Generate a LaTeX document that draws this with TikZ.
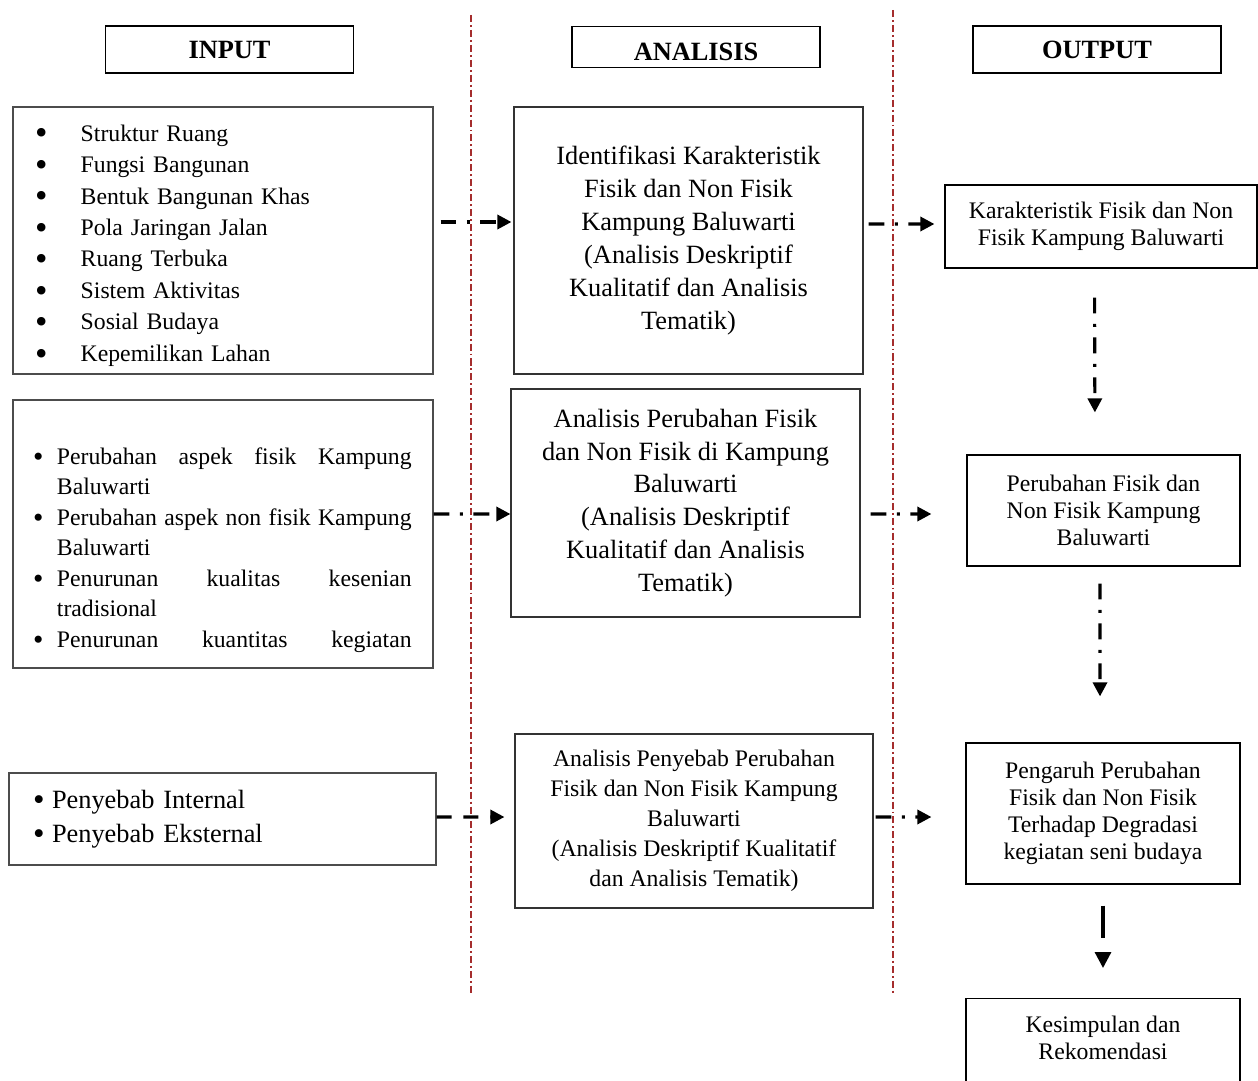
\documentclass[tikz,border=0pt]{standalone}
\usepackage{fontspec}
\setmainfont{Liberation Serif}
\usetikzlibrary{arrows.meta}

\definecolor{sepred}{RGB}{165,45,45}
\newcommand{\bigblt}{\raisebox{-2.2pt}{\scalebox{1.5}{\textbullet}}}
\newcommand{\midblt}{\raisebox{-1.1pt}{\scalebox{1.25}{\textbullet}}}
\newcommand{\blt}{\makebox[26pt][l]{\bigblt}}
\newcommand{\bltb}{\makebox[13.6pt][l]{\midblt}}
\newcommand{\bltc}{\makebox[10.8pt][l]{\midblt}}
\newcommand{\fillline}[1]{\makebox[201.9pt][l]{#1}}

\begin{document}
\begin{tikzpicture}[x=0.02cm, y=-0.02cm,
    hbox/.style={draw, line width=0.9pt, minimum width=4.96cm, minimum height=0.94cm, font=\fontsize{15}{18}\selectfont\bfseries},
    inbox/.style={draw=black!70, line width=0.7pt, inner xsep=0pt, align=left},
    anbox/.style={draw=black!80, line width=0.7pt, align=center},
    outbox/.style={draw, line width=0.7pt, align=center, font=\fontsize{13.5}{15.3}\selectfont},
    sepline/.style={draw=sepred, line width=0.6pt, dash pattern=on 4pt off 1.7pt on 1.1pt off 1.7pt},
    flow/.style={line width=1.8pt, -{Triangle[length=8pt,width=8pt]}, dash pattern=on 9pt off 6pt on 1.7pt off 6pt},
    flowdash/.style={line width=1.8pt, -{Triangle[length=8pt,width=8pt]}, dash pattern=on 8.5pt off 6.8pt},
    flowlong/.style={line width=1.8pt, -{Triangle[length=9pt,width=9pt]}, dash pattern=on 18.7pt off 10pt}]
    \useasboundingbox (0,0) rectangle (1258,1081);

    \draw[sepline] (471,15) -- (471,995);
    \draw[sepline] (893,10) -- (893,995);

    \node[hbox] at (229.5,49.5) (hin) {INPUT};
    \node[hbox, minimum height=0.82cm, text height=15pt, text depth=0pt] at (696,47) (han) {ANALISIS};
    \node[hbox] at (1097,49.5) (hout) {OUTPUT};

    \node[inbox, minimum width=8.4cm, minimum height=5.34cm, label={[inbox, draw=none, text width=7.52cm, yshift=-1mm, font=\fontsize{13.5}{17.9}\selectfont]center:\blt Struktur Ruang\\ \blt Fungsi Bangunan\\ \blt Bentuk Bangunan Khas\\ \blt Pola Jaringan Jalan\\ \blt Ruang Terbuka\\ \blt Sistem Aktivitas\\ \blt Sosial Budaya\\ \blt Kepemilikan Lahan}] at (223,240.5) (in1) {};
    \node[inbox, minimum width=8.4cm, minimum height=5.36cm, label={[inbox, draw=none, text width=7.6cm, yshift=-3.2mm, font=\fontsize{13.5}{17.4}\selectfont]center:\bltb\fillline{Perubahan\hfill aspek\hfill fisik\hfill Kampung}\\ \hspace*{13.6pt}Baluwarti\\ \bltb\fillline{Perubahan\hfill aspek\hfill non\hfill fisik\hfill Kampung}\\ \hspace*{13.6pt}Baluwarti\\ \bltb\fillline{Penurunan\hfill kualitas\hfill kesenian}\\ \hspace*{13.6pt}tradisional\\ \bltb\fillline{Penurunan\hfill kuantitas\hfill kegiatan}}] at (223,534) (in2) {};
    \node[inbox, minimum width=8.54cm, minimum height=1.84cm, text width=7.58cm, font=\fontsize{15}{19.3}\selectfont] at (222.5,819) (in3) {\bltc Penyebab Internal\\ \bltc Penyebab Eksternal};

    \node[anbox, minimum width=6.98cm, minimum height=5.34cm, font=\fontsize{15}{18.7}\selectfont] at (688.5,240.5) (an1) {Identifikasi Karakteristik\\ Fisik dan Non Fisik\\ Kampung Baluwarti\\ (Analisis Deskriptif\\ Kualitatif dan Analisis\\ Tematik)};
    \node[anbox, minimum width=6.98cm, minimum height=4.56cm, font=\fontsize{15}{18.7}\selectfont] at (685.5,503) (an2) {Analisis Perubahan Fisik\\ dan Non Fisik di Kampung\\ Baluwarti\\ (Analisis Deskriptif\\ Kualitatif dan Analisis\\ Tematik)};
    \node[anbox, minimum width=7.16cm, minimum height=3.48cm, font=\fontsize{13.5}{17}\selectfont] at (694,821) (an3) {Analisis Penyebab Perubahan\\ Fisik dan Non Fisik Kampung\\ Baluwarti\\ (Analisis Deskriptif Kualitatif\\ dan Analisis Tematik)};

    \node[outbox, minimum width=6.24cm, minimum height=1.66cm] at (1101,226.5) (out1) {Karakteristik Fisik dan Non\\ Fisik Kampung Baluwarti};
    \node[outbox, minimum width=5.46cm, minimum height=2.22cm] at (1103.5,510.5) (out2) {Perubahan Fisik dan\\ Non Fisik Kampung\\ Baluwarti};
    \node[outbox, minimum width=5.48cm, minimum height=2.82cm] at (1103,813.5) (out3) {Pengaruh Perubahan\\ Fisik dan Non Fisik\\ Terhadap Degradasi\\ kegiatan seni budaya};
    \node[outbox, minimum width=5.48cm, minimum height=2cm, anchor=north, label={[font=\fontsize{13.5}{15.3}\selectfont, align=center, yshift=2.2mm]center:Kesimpulan dan\\ Rekomendasi}] at (1103,998) (out4) {};

    \draw[flow, shorten <=1.4mm, shorten >=0.4mm] ([yshift=3.7mm]in1.east) -- ([yshift=3.7mm]an1.west);
    \draw[flow, shorten <=1mm, shorten >=2mm] ([yshift=3.3mm]an1.east) -- ([yshift=0.5mm]out1.west);
    \draw[flow] ([yshift=4mm]in2.east) -- ([yshift=-2.2mm]an2.west);
    \draw[flow, shorten <=2mm, shorten >=7mm] ([yshift=-2.2mm]an2.east) -- ([yshift=-0.7mm]out2.west);
    \draw[flowdash, shorten >=2mm] ([yshift=0.4mm]in3.east) -- ([yshift=0.8mm]an3.west);
    \draw[flow, shorten <=0.4mm, shorten >=6.8mm] ([yshift=0.8mm]an3.east) -- ([yshift=-0.7mm]out3.west);

    \draw[flow, shorten <=5.8mm, shorten >=8.4mm] ([xshift=-1.3mm]out1.south) -- ([xshift=-1.7mm]out2.north);
    \draw[flow, shorten <=3.4mm, shorten >=9.2mm] ([xshift=-0.7mm]out2.south) -- ([xshift=-0.6mm]out3.north);
    \draw[flowlong, shorten <=4.2mm, shorten >=6mm] (out3.south) -- (out4.north);
\end{tikzpicture}
\end{document}
